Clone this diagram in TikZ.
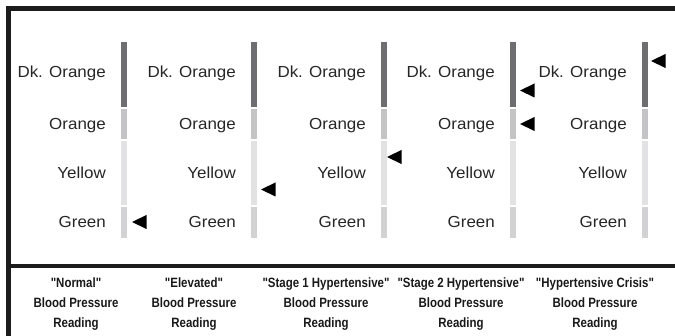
\documentclass[tikz,border=0pt]{standalone}
\usepackage{fontspec}
\setmainfont{Liberation Sans}
\newfontfamily\levelfont{Liberation Sans}[FakeStretch=1.06]
\newfontfamily\stagefont{Liberation Sans Bold}[FakeStretch=0.85]
\definecolor{framegray}{HTML}{1C1C1C}
\definecolor{bardk}{HTML}{6E6E72}
\definecolor{barorange}{HTML}{C4C4C6}
\definecolor{baryellow}{HTML}{E2E2E4}
\definecolor{bargreen}{HTML}{D2D2D4}
\tikzset{
  level/.style={font=\levelfont\fontsize{16}{18}\selectfont, text=black!85, inner sep=0pt, anchor=base east},
  stage/.style={font=\stagefont\fontsize{13.5}{20}\selectfont, text=black!90, align=center, inner sep=0pt},
}
\begin{document}
\begin{tikzpicture}[x=1pt,y=-1pt]
    \useasboundingbox (0,0) rectangle (675,336);
    % frame
    \draw[line width=4.5pt,framegray] (675,8.5) -- (8.5,8.5) -- (8.5,336);
    \draw[line width=4pt,framegray] (8.5,266) -- (675,266);
    % scales
    \foreach \x [count=\i] in {124,254,384,513,645} {
        \fill[bardk] (\x-3,42) rectangle (\x+3,107);
        \fill[barorange] (\x-3,109) rectangle (\x+3,139);
        \fill[baryellow] (\x-3,141) rectangle (\x+3,205);
        \fill[bargreen] (\x-3,207) rectangle (\x+3,238);
        \foreach \lab/\y [count=\j] in {Dk. Orange/77.8, Orange/129.8, Yellow/178.8, Green/227.8}
            \node[level] (lbl-\i-\j) at (\x-18,\y) {\lab};
    }
    % pointers
    \foreach \x/\y in {132/222, 261/189.5, 387/157, 520/90.5, 520/124, 651/61}
        \fill[black] (\x,\y) -- (\x+14.5,\y-7) -- (\x+14.5,\y+7) -- cycle;
    % readings
    \foreach \x/\name [count=\i] in {76/{"Normal"}, 194/{"Elevated"}, 326/{"Stage 1 Hypertensive"}, 461/{"Stage 2 Hypertensive"}, 595/{"Hypertensive Crisis"}}
        \node[stage] (stage-\i) at (\x,304.5) {\name\\Blood Pressure\\Reading};
\end{tikzpicture}
\end{document}
